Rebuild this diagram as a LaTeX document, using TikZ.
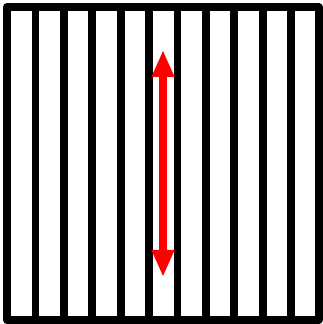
\documentclass[tikz,border=0pt]{standalone}
\usetikzlibrary{arrows.meta}
\begin{document}
\begin{tikzpicture}[x=1pt,y=1pt,
  stripe/.style={line width=7.8pt,black},
  frame/.style={line width=7.8pt,black,line join=round},
  redarrow/.style={line width=7.8pt,red,{Triangle[length=27pt,width=21pt]}-{Triangle[length=27pt,width=21pt]}}]
\useasboundingbox (0,0) rectangle (322,324);
\foreach \k in {1,...,10}{
  \draw[stripe] ({7+28.4*\k},4) -- ({7+28.4*\k},317);
}
\draw[frame] (7,4) rectangle (318.6,317);
\coordinate (top) at (163,274);
\coordinate (bot) at (163,47);
\draw[redarrow] (bot) -- (top);
\end{tikzpicture}
\end{document}
